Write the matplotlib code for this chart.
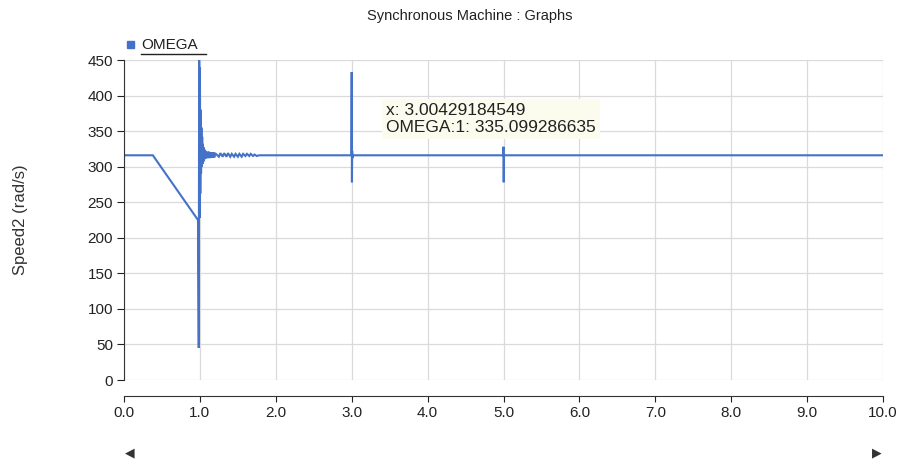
import matplotlib
matplotlib.use("Agg")
import matplotlib.pyplot as plt
from matplotlib.lines import Line2D
from matplotlib.patches import Rectangle
from matplotlib import font_manager

names = {f.name for f in font_manager.fontManager.ttflist}
narrow = "Liberation Sans Narrow" if "Liberation Sans Narrow" in names else "Liberation Sans"
plt.rcParams['font.family'] = [narrow, 'DejaVu Sans']

# speed trace (time in s, speed in rad/s)
t_pts = [0.0, 0.38, 0.975, 0.985, 0.99, 0.995, 1.0, 1.005, 1.01, 1.015, 1.02,
         1.025, 1.03, 1.035, 1.04, 1.045, 1.05, 1.055, 1.06, 1.07, 1.08, 1.09,
         1.10, 1.11, 1.12, 1.13, 1.14, 1.15, 1.16, 1.17, 1.18, 1.19, 1.20,
         1.25, 1.27, 1.30, 1.32, 1.35, 1.37, 1.40, 1.42, 1.45, 1.47, 1.50,
         1.52, 1.55, 1.57, 1.60, 1.62, 1.65, 1.67, 1.70, 1.72, 1.75, 1.78,
         2.995, 3.0, 3.003, 3.006, 3.01, 3.015,
         4.995, 5.0, 5.003, 5.006, 5.01,
         10.0]
omega = [316, 316, 225, 45, 450, 228, 440, 262, 380, 290, 355,
         300, 342, 304, 332, 307, 327, 309, 324, 311, 322, 312,
         321, 312, 321, 312, 320, 313, 320, 313, 320, 313, 319,
         314, 319, 314, 319, 314, 319, 314, 318, 314, 318, 314,
         318, 314, 318, 315, 318, 315, 318, 315, 317, 315, 316,
         316, 433, 278, 322, 312, 316,
         316, 328, 278, 318, 316,
         316]

x_ticks = [0, 1, 2, 3, 4, 5, 6, 7, 8, 9, 10]
y_ticks = [0, 50, 100, 150, 200, 250, 300, 350, 400, 450]

blue = '#4472c8'

fig = plt.figure(figsize=(9.05, 4.66), dpi=100)
ax = fig.add_axes([124/905, 1-380/466, (883-124)/905, 320/466])

ax.plot(t_pts, omega, color=blue, lw=1.5, solid_joinstyle='miter')

ax.set_xlim(0, 10)
ax.set_ylim(0, 450)
ax.set_xticks(x_ticks)
ax.set_xticklabels(["%.1f" % v for v in x_ticks])
ax.set_yticks(y_ticks)
ax.grid(True, color='#dadada', lw=0.9)
ax.set_axisbelow(True)
for s in ['top', 'right']:
    ax.spines[s].set_visible(False)
ax.spines['bottom'].set_position(('outward', 11.5))
ax.spines['bottom'].set_color('#333333')
ax.spines['left'].set_color('#333333')
ax.tick_params(axis='x', length=4, labelsize=11, pad=3, colors='#222222')
ax.tick_params(axis='y', length=5, labelsize=11, pad=3, colors='#222222')
ax.set_ylabel("Speed2 (rad/s)", fontsize=12, color='#333333',
              family=['Liberation Sans', 'DejaVu Sans'])
ax.yaxis.set_label_coords(-(124 - 28)/759, 0.5)

fig.text(470/905, 1-16/466, "Synchronous Machine : Graphs", ha='center', va='center',
         fontsize=10.5, color='#222222', family=['Liberation Sans', 'DejaVu Sans'])

# legend entry
fig.add_artist(Rectangle((127/905, 1-48/466), 7/905, 7/466, color=blue,
                         transform=fig.transFigure))
fig.text(141/905, 1-45/466, "OMEGA", ha='left', va='center', fontsize=11,
         color='#222222', family=['Liberation Sans', 'DejaVu Sans'])
fig.add_artist(Line2D([141/905, 206/905], [1-54/466, 1-54/466], color='#222222',
                      lw=1, transform=fig.transFigure))

# tooltip
ax.text(3.45, 389, "x: 3.00429184549\nOMEGA:1: 335.099286635", ha='left', va='top',
        fontsize=12.5, color='#222222', linespacing=1.1,
        bbox=dict(facecolor='#fbfbee', edgecolor='none', pad=3))

# scroll arrows
fig.text(130/905, 1-453/466, "\u25c0", ha='center', va='center', fontsize=9,
         color='#333333', family=['DejaVu Sans'])
fig.text(877/905, 1-453/466, "\u25b6", ha='center', va='center', fontsize=9,
         color='#333333', family=['DejaVu Sans'])

fig.savefig("out.png", dpi=100)
